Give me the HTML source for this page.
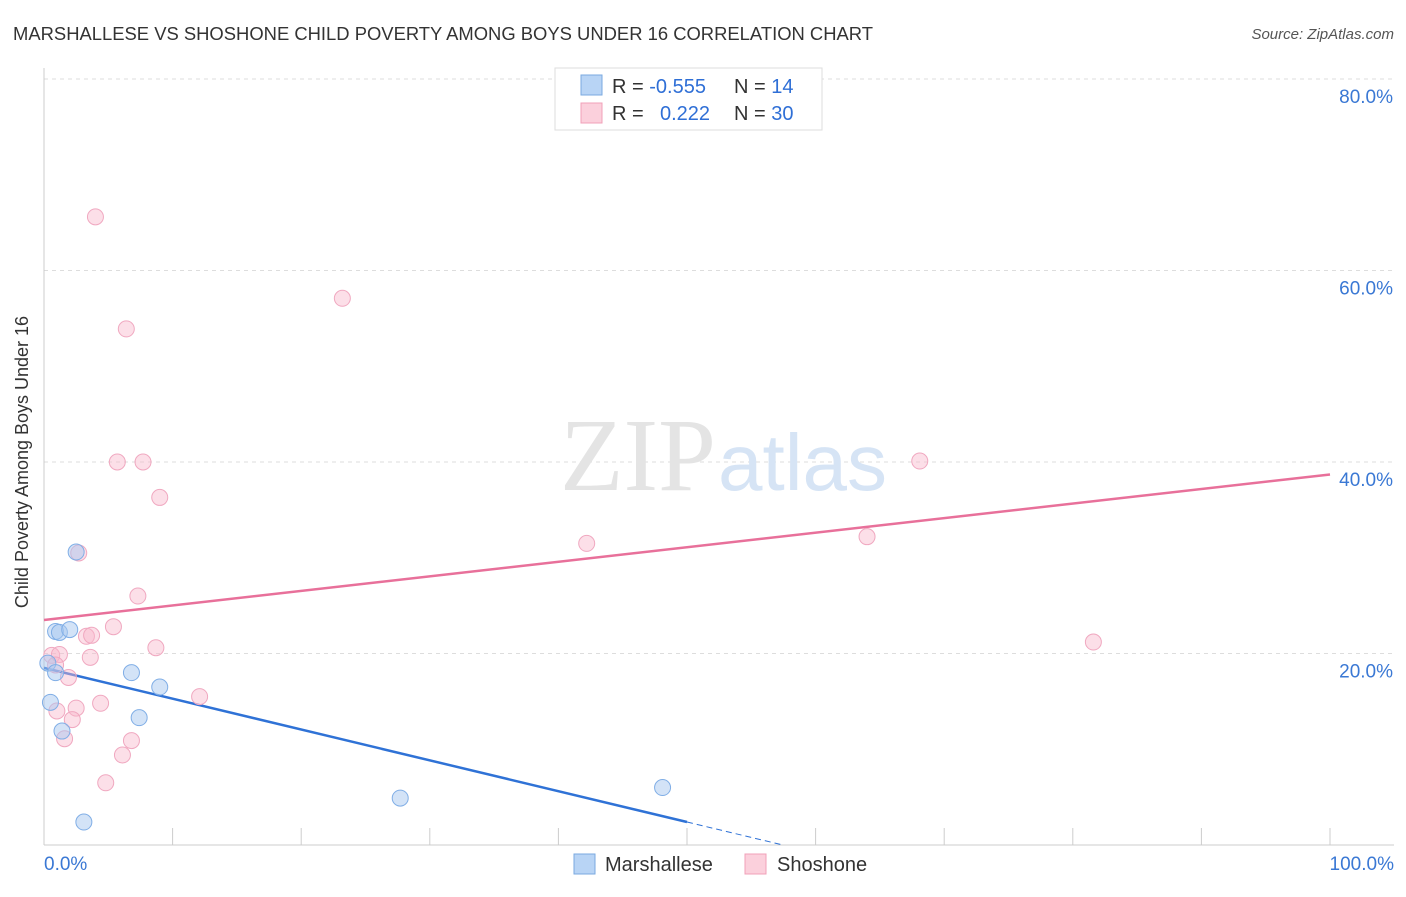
<!DOCTYPE html>
<html><head><meta charset="utf-8"><style>
body{margin:0;background:#fff;font-family:"Liberation Sans",sans-serif;}
svg text{font-family:"Liberation Sans",sans-serif;}
</style></head><body>
<svg width="1406" height="892" xmlns="http://www.w3.org/2000/svg">
<text x="13" y="40" font-size="18" fill="#333" textLength="860" lengthAdjust="spacingAndGlyphs">MARSHALLESE VS SHOSHONE CHILD POVERTY AMONG BOYS UNDER 16 CORRELATION CHART</text>
<text x="1394" y="39" font-size="15" fill="#555" text-anchor="end" font-style="italic">Source: ZipAtlas.com</text>
<g id="grid"></g>
<line x1="44" y1="68" x2="44" y2="845" stroke="#ccc"/>
<line x1="44" y1="845" x2="1394" y2="845" stroke="#ccc"/>
<text x="716" y="490" font-size="104" fill="#e4e4e4" text-anchor="end" style="font-family:'Liberation Serif',serif">ZIP</text>
<text x="718" y="490" font-size="80" fill="#d6e4f5">atlas</text>
<g id="lines"></g>
<g id="pts"></g>
<text x="22" y="456" font-size="18" fill="#333" text-anchor="middle" transform="rotate(-90 28 456)">Child Poverty Among Boys Under 16</text>
<text x="44" y="870" font-size="19" fill="#3a78d4">0.0%</text>
<text x="1394" y="870" font-size="19" fill="#3a78d4" text-anchor="end">100.0%</text>
<g>
<rect x="555" y="68" width="267" height="62" fill="#fff" stroke="#ddd"/>
<rect x="581" y="75" width="21" height="20" fill="#b8d4f5" stroke="#7aa9e0"/>
<rect x="581" y="103" width="21" height="20" fill="#fbd0dc" stroke="#f0a0b8"/>
<text x="612" y="93" font-size="20" fill="#333">R = <tspan fill="#2f6fd6">-0.555</tspan></text>
<text x="734" y="93" font-size="20" fill="#333">N = <tspan fill="#2f6fd6"> 14</tspan></text>
<text x="612" y="120" font-size="20" fill="#333">R = <tspan fill="#2f6fd6" x="660">0.222</tspan></text>
<text x="734" y="120" font-size="20" fill="#333">N = <tspan fill="#2f6fd6">30</tspan></text>
</g>
<g>
<rect x="574" y="854" width="21" height="20" fill="#b8d4f5" stroke="#7aa9e0"/>
<text x="605" y="871" font-size="20" fill="#333">Marshallese</text>
<rect x="745" y="854" width="21" height="20" fill="#fbd0dc" stroke="#f0a0b8"/>
<text x="777" y="871" font-size="20" fill="#333">Shoshone</text>
</g>
</svg>
<script>
const yTicks=[20,40,60,80];
const xTicks=[0,10,20,30,40,50,60,70,80,90,100];
const blueX=[0.3,0.9,0.9,1.2,2.0,2.5,0.5,1.4,6.8,9.0,7.4,3.1,27.7,48.1];
const blueY=[19.0,18.0,22.3,22.2,22.5,30.6,14.9,11.9,18.0,16.5,13.3,2.4,4.9,6.0];
const pinkX=[4.0,6.4,23.2,5.7,7.7,9.0,2.7,7.3,5.4,3.3,3.7,8.7,3.6,0.6,1.2,0.9,1.9,12.1,4.4,1.0,2.5,2.2,1.6,6.8,6.1,4.8,42.2,64.0,68.1,81.6];
const pinkY=[65.6,53.9,57.1,40.0,40.0,36.3,30.5,26.0,22.8,21.8,21.9,20.6,19.6,19.8,19.9,18.8,17.5,15.5,14.8,14.0,14.3,13.1,11.1,10.9,9.4,6.5,31.5,32.2,40.1,21.2];
const pinkTrend=[23.5,38.7];
const blueTrend=[18.5,-0.322];
const NS='http://www.w3.org/2000/svg';
const X=v=>44+v*12.86, Y=v=>845-v*9.575;
function mk(t,a,p){const e=document.createElementNS(NS,t);for(const k in a)e.setAttribute(k,a[k]);p.appendChild(e);return e;}
const grid=document.getElementById('grid');
yTicks.forEach(t=>{
 const l=mk('line',{x1:44,x2:1394,y1:Y(t),y2:Y(t),stroke:'#ddd','stroke-dasharray':'4,4'},grid);
 
 
 const tx=mk('text',{x:1393,y:Y(t)+24,'font-size':19,fill:'#3a78d4','text-anchor':'end'},grid);
 tx.textContent=t.toFixed(1)+'%';
 
 
});
xTicks.forEach(t=>{
 const l=mk('line',{x1:X(t),x2:X(t),y1:828,y2:845,stroke:'#ccc'},grid);
 
 
});
const lines=document.getElementById('lines');
let pl=mk('line',{x1:X(0),y1:Y(pinkTrend[0]),x2:X(100),y2:Y(pinkTrend[1]),stroke:'#e8709a','stroke-width':2.5},lines);


const bz=-blueTrend[0]/blueTrend[1];
let bl=mk('line',{x1:X(0),y1:Y(blueTrend[0]),x2:X(50),y2:Y(blueTrend[0]+blueTrend[1]*50),stroke:'#2f72d6','stroke-width':2.5},lines);


let bd=mk('line',{x1:X(50),y1:Y(blueTrend[0]+blueTrend[1]*50),x2:X(bz),y2:Y(0),stroke:'#2f72d6','stroke-width':1,'stroke-dasharray':'6,4'},lines);


const pts=document.getElementById('pts');
pinkX.forEach((x,i)=>{
 const c=mk('circle',{cx:X(x),cy:Y(pinkY[i]),r:8,fill:'rgba(248,183,204,0.45)',stroke:'#f0a8c0','stroke-width':1},pts);
 
 
});
blueX.forEach((x,i)=>{
 const c=mk('circle',{cx:X(x),cy:Y(blueY[i]),r:8,fill:'rgba(168,200,240,0.5)',stroke:'#80aee6','stroke-width':1},pts);
 
 
});
</script>
</body></html>
